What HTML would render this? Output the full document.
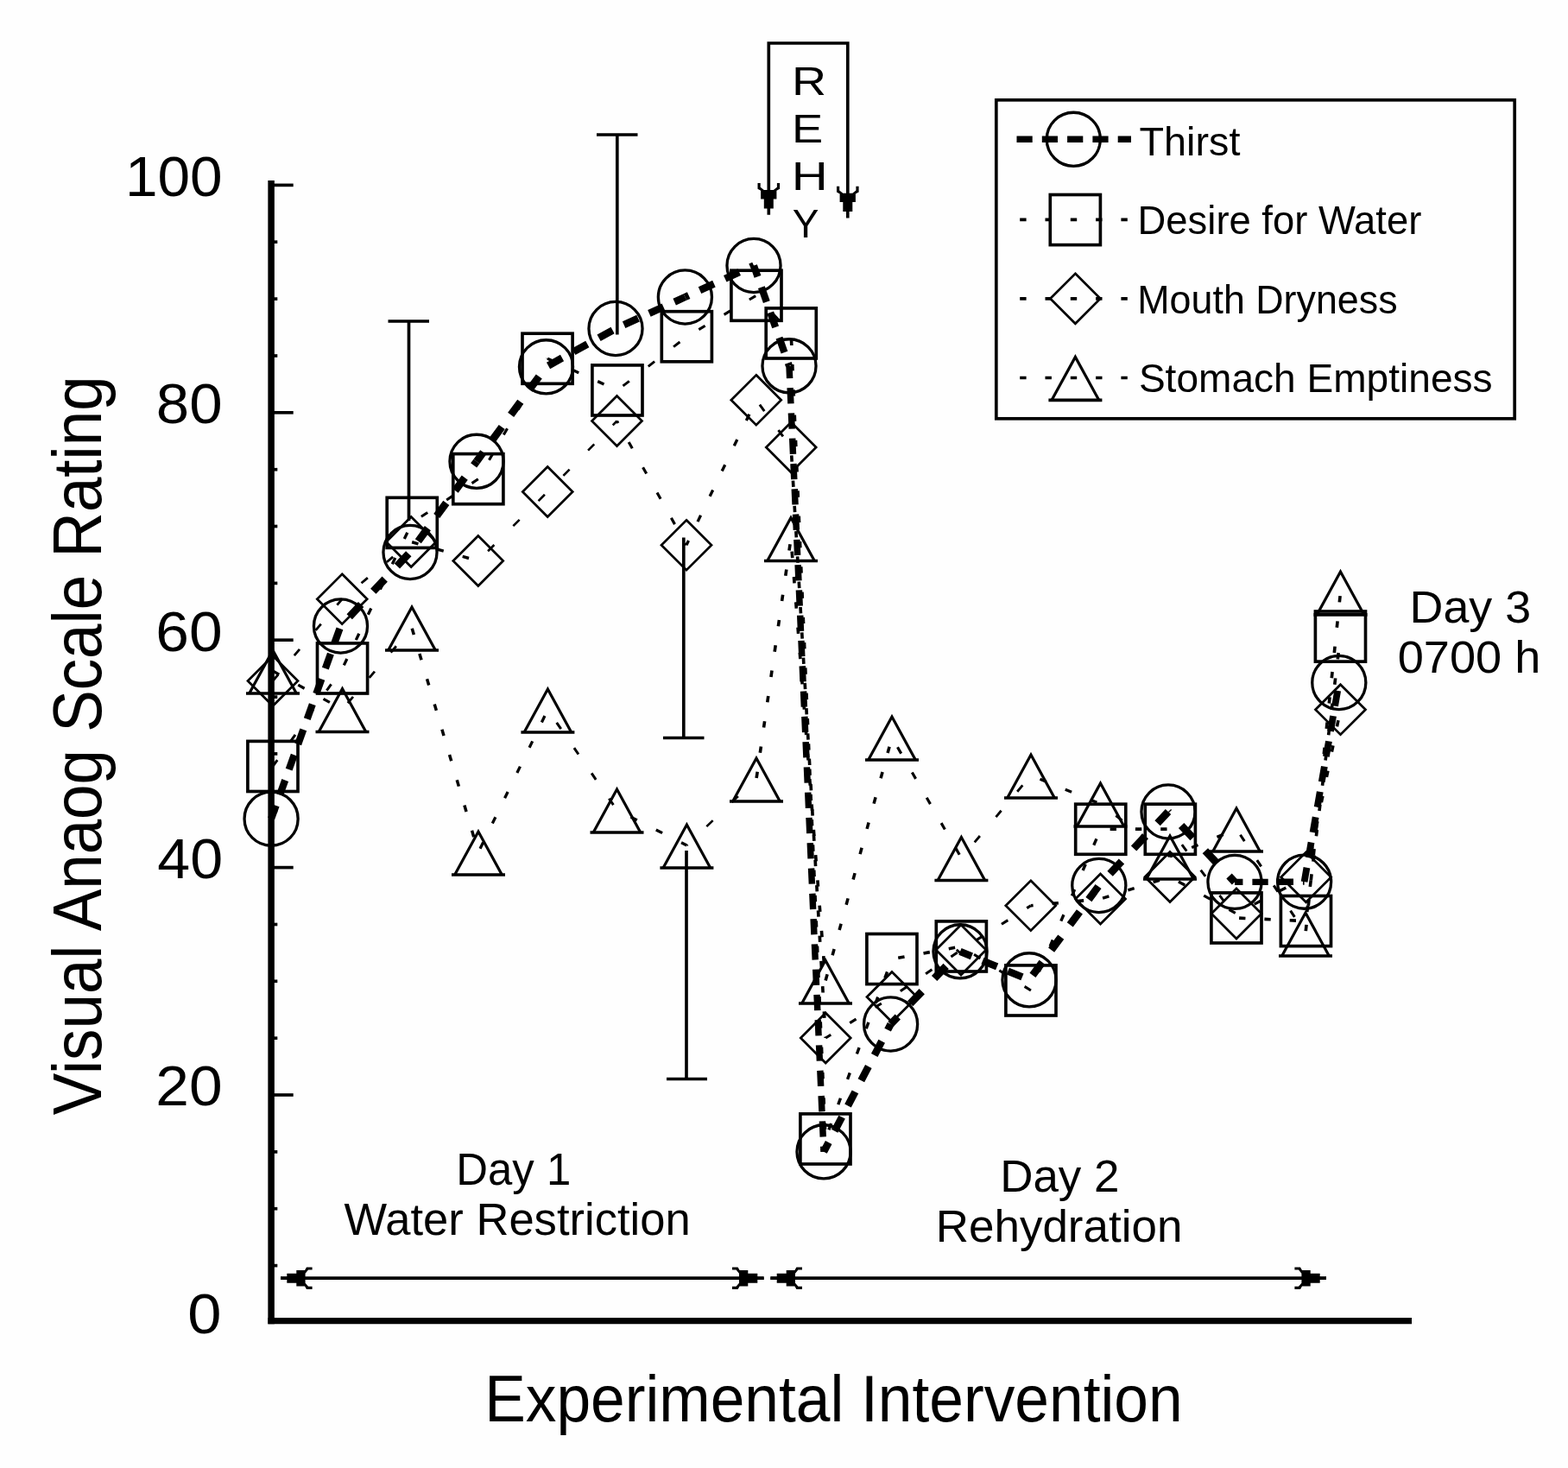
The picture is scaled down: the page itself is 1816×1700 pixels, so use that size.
<!DOCTYPE html>
<html lang="en"><head><meta charset="utf-8"><title>Visual Analog Scale Rating</title>
<style>html,body{margin:0;padding:0;background:#fff}body{width:1816px;height:1700px;overflow:hidden}svg{display:block}text{font-family:"Liberation Sans",Arial,sans-serif;fill:#000}</style></head><body>
<svg width="1816" height="1700" viewBox="0 0 1816 1700">
<rect width="1816" height="1700" fill="#fefefe"/>
<g stroke="#000" fill="none" stroke-width="3.66">
<path stroke-width="7.5" d="M314.1 209V1533.3"/>
<path stroke-width="7.2" d="M310.4 1529.7H1635"/>
<path d="M316 1465.6H321.3"/>
<path d="M316 1399.7H321.3"/>
<path d="M316 1333.9H321.3"/>
<path d="M316 1268.0H339.7"/>
<path d="M316 1202.2H321.3"/>
<path d="M316 1136.3H321.3"/>
<path d="M316 1070.5H321.3"/>
<path d="M316 1004.6H339.7"/>
<path d="M316 938.8H321.3"/>
<path d="M316 872.9H321.3"/>
<path d="M316 807.1H321.3"/>
<path d="M316 741.2H339.7"/>
<path d="M316 675.4H321.3"/>
<path d="M316 609.5H321.3"/>
<path d="M316 543.7H321.3"/>
<path d="M316 477.8H339.7"/>
<path d="M316 412.0H321.3"/>
<path d="M316 346.1H321.3"/>
<path d="M316 280.2H321.3"/>
<path d="M316 214.4H339.7"/>
</g>
<text x="217.2" y="1543.8" font-size="65.5" textLength="39.2" lengthAdjust="spacingAndGlyphs">0</text>
<text x="180.3" y="1280.4" font-size="65.5" textLength="77.3" lengthAdjust="spacingAndGlyphs">20</text>
<text x="182.3" y="1017.0" font-size="65.5" textLength="75.8" lengthAdjust="spacingAndGlyphs">40</text>
<text x="180.3" y="753.6" font-size="65.5" textLength="77.3" lengthAdjust="spacingAndGlyphs">60</text>
<text x="180.8" y="490.2" font-size="65.5" textLength="76.8" lengthAdjust="spacingAndGlyphs">80</text>
<text x="144.9" y="226.8" font-size="65.5" textLength="112.7" lengthAdjust="spacingAndGlyphs">100</text>
<text transform="translate(117.3 1291.0) rotate(-90)" x="-0.3" y="0" font-size="79" textLength="855.9" lengthAdjust="spacingAndGlyphs">Visual Anaog Scale Rating</text>
<text x="561.2" y="1646.2" font-size="76" textLength="808.4" lengthAdjust="spacingAndGlyphs">Experimental Intervention</text>
<g stroke="#000" fill="none" stroke-width="3.66">
<line x1="316.0" y1="887.5" x2="396.6" y2="774.0" stroke-width="2.98" stroke-dasharray="8.98 26.93" stroke-dashoffset="0.00"/>
<line x1="396.6" y1="774.0" x2="477.2" y2="605.4" stroke-width="3.30" stroke-dasharray="8.11 24.34" stroke-dashoffset="28.44"/>
<line x1="477.2" y1="605.4" x2="553.9" y2="554.7" stroke-width="3.05" stroke-dasharray="8.78 26.33" stroke-dashoffset="22.28"/>
<line x1="553.9" y1="554.7" x2="634.1" y2="415.2" stroke-width="3.17" stroke-dasharray="8.44 25.33" stroke-dashoffset="8.52"/>
<line x1="634.1" y1="415.2" x2="715.0" y2="452.0" stroke-width="3.33" stroke-dasharray="8.04 24.12" stroke-dashoffset="0.48"/>
<line x1="715.0" y1="452.0" x2="795.4" y2="389.8" stroke-width="2.89" stroke-dasharray="9.26 27.77" stroke-dashoffset="28.81"/>
<line x1="795.4" y1="389.8" x2="876.0" y2="342.2" stroke-width="3.15" stroke-dasharray="8.50 25.49" stroke-dashoffset="17.81"/>
<line x1="876.0" y1="342.2" x2="916.2" y2="386.0" stroke-width="2.69" stroke-dasharray="9.95 29.84" stroke-dashoffset="11.01"/>
<line x1="916.2" y1="386.0" x2="956.0" y2="1319.0" stroke-width="3.66" stroke-dasharray="7.33 21.98" stroke-dashoffset="22.59"/>
<line x1="956.0" y1="1319.0" x2="1033.0" y2="1110.6" stroke-width="3.43" stroke-dasharray="7.80 23.41" stroke-dashoffset="19.84"/>
<line x1="1033.0" y1="1110.6" x2="1113.4" y2="1096.0" stroke-width="3.60" stroke-dasharray="7.44 22.32" stroke-dashoffset="22.41"/>
<line x1="1113.4" y1="1096.0" x2="1194.0" y2="1147.0" stroke-width="3.09" stroke-dasharray="8.66 25.99" stroke-dashoffset="17.29"/>
<line x1="1194.0" y1="1147.0" x2="1274.8" y2="960.2" stroke-width="3.36" stroke-dasharray="7.97 23.92" stroke-dashoffset="8.03"/>
<line x1="1274.8" y1="960.2" x2="1355.4" y2="960.2" stroke-width="3.66" stroke-dasharray="7.32 21.96" stroke-dashoffset="18.44"/>
<line x1="1355.4" y1="960.2" x2="1432.0" y2="1063.0" stroke-width="2.93" stroke-dasharray="9.13 27.39" stroke-dashoffset="14.03"/>
<line x1="1432.0" y1="1063.0" x2="1512.5" y2="1066.6" stroke-width="3.66" stroke-dasharray="7.33 21.98" stroke-dashoffset="26.19"/>
<line x1="1512.5" y1="1066.6" x2="1552.5" y2="737.1" stroke-width="3.63" stroke-dasharray="7.37 22.12" stroke-dashoffset="18.96"/>
<line x1="316.0" y1="788.5" x2="396.2" y2="693.8" stroke-width="2.79" stroke-dasharray="9.59 28.78" stroke-dashoffset="0.00"/>
<line x1="396.2" y1="693.8" x2="476.2" y2="627.5" stroke-width="2.82" stroke-dasharray="9.50 28.51" stroke-dashoffset="8.97"/>
<line x1="476.2" y1="627.5" x2="553.8" y2="649.5" stroke-width="3.52" stroke-dasharray="7.61 22.83" stroke-dashoffset="29.47"/>
<line x1="553.8" y1="649.5" x2="634.2" y2="569.5" stroke-width="2.60" stroke-dasharray="10.32 30.96" stroke-dashoffset="25.39"/>
<line x1="634.2" y1="569.5" x2="714.5" y2="487.5" stroke-width="2.62" stroke-dasharray="10.24 30.73" stroke-dashoffset="14.93"/>
<line x1="714.5" y1="487.5" x2="795.0" y2="631.2" stroke-width="3.19" stroke-dasharray="8.39 25.17" stroke-dashoffset="5.54"/>
<line x1="795.0" y1="631.2" x2="875.8" y2="463.2" stroke-width="3.30" stroke-dasharray="8.12 24.37" stroke-dashoffset="2.42"/>
<line x1="875.8" y1="463.2" x2="916.2" y2="518.0" stroke-width="2.94" stroke-dasharray="9.11 27.32" stroke-dashoffset="29.58"/>
<line x1="916.2" y1="518.0" x2="956.2" y2="1202.0" stroke-width="3.65" stroke-dasharray="7.33 22.00" stroke-dashoffset="20.00"/>
<line x1="956.2" y1="1202.0" x2="1033.0" y2="1154.5" stroke-width="3.11" stroke-dasharray="8.61 25.83" stroke-dashoffset="1.47"/>
<line x1="1033.0" y1="1154.5" x2="1113.0" y2="1100.0" stroke-width="3.02" stroke-dasharray="8.86 26.57" stroke-dashoffset="23.52"/>
<line x1="1113.0" y1="1100.0" x2="1193.8" y2="1048.8" stroke-width="3.09" stroke-dasharray="8.67 26.01" stroke-dashoffset="13.74"/>
<line x1="1193.8" y1="1048.8" x2="1274.5" y2="1041.0" stroke-width="3.64" stroke-dasharray="7.35 22.06" stroke-dashoffset="4.53"/>
<line x1="1274.5" y1="1041.0" x2="1355.0" y2="1015.5" stroke-width="3.49" stroke-dasharray="7.68 23.04" stroke-dashoffset="28.01"/>
<line x1="1355.0" y1="1015.5" x2="1432.0" y2="1058.0" stroke-width="3.20" stroke-dasharray="8.36 25.08" stroke-dashoffset="22.11"/>
<line x1="1432.0" y1="1058.0" x2="1512.6" y2="1015.8" stroke-width="3.24" stroke-dasharray="8.26 24.79" stroke-dashoffset="9.62"/>
<line x1="1512.6" y1="1015.8" x2="1552.5" y2="821.7" stroke-width="3.59" stroke-dasharray="7.47 22.42" stroke-dashoffset="1.31"/>
<line x1="316.0" y1="777.0" x2="396.5" y2="821.5" stroke-width="3.20" stroke-dasharray="8.36 25.09" stroke-dashoffset="0.00"/>
<line x1="396.5" y1="821.5" x2="477.0" y2="727.0" stroke-width="2.79" stroke-dasharray="9.62 28.85" stroke-dashoffset="28.82"/>
<line x1="477.0" y1="727.0" x2="554.0" y2="987.0" stroke-width="3.51" stroke-dasharray="7.63 22.90" stroke-dashoffset="29.83"/>
<line x1="554.0" y1="987.0" x2="634.4" y2="822.0" stroke-width="3.29" stroke-dasharray="8.14 24.43" stroke-dashoffset="27.90"/>
<line x1="634.4" y1="822.0" x2="714.5" y2="938.0" stroke-width="3.01" stroke-dasharray="8.90 26.69" stroke-dashoffset="17.50"/>
<line x1="714.5" y1="938.0" x2="795.4" y2="979.0" stroke-width="3.26" stroke-dasharray="8.21 24.62" stroke-dashoffset="14.89"/>
<line x1="795.4" y1="979.0" x2="876.0" y2="902.0" stroke-width="2.65" stroke-dasharray="10.12 30.37" stroke-dashoffset="8.77"/>
<line x1="876.0" y1="902.0" x2="916.0" y2="623.5" stroke-width="3.62" stroke-dasharray="7.40 22.19" stroke-dashoffset="28.67"/>
<line x1="916.0" y1="623.5" x2="956.0" y2="1136.0" stroke-width="3.65" stroke-dasharray="7.34 22.03" stroke-dashoffset="14.12"/>
<line x1="956.0" y1="1136.0" x2="1033.0" y2="854.0" stroke-width="3.53" stroke-dasharray="7.59 22.76" stroke-dashoffset="29.88"/>
<line x1="1033.0" y1="854.0" x2="1113.4" y2="993.5" stroke-width="3.17" stroke-dasharray="8.45 25.35" stroke-dashoffset="20.80"/>
<line x1="1113.4" y1="993.5" x2="1194.0" y2="898.0" stroke-width="2.80" stroke-dasharray="9.58 28.74" stroke-dashoffset="14.55"/>
<line x1="1194.0" y1="898.0" x2="1274.5" y2="931.0" stroke-width="3.39" stroke-dasharray="7.91 23.73" stroke-dashoffset="20.30"/>
<line x1="1274.5" y1="931.0" x2="1355.0" y2="992.0" stroke-width="2.92" stroke-dasharray="9.18 27.55" stroke-dashoffset="14.35"/>
<line x1="1355.0" y1="992.0" x2="1432.0" y2="960.0" stroke-width="3.38" stroke-dasharray="7.93 23.78" stroke-dashoffset="4.44"/>
<line x1="1432.0" y1="960.0" x2="1512.0" y2="1081.0" stroke-width="3.05" stroke-dasharray="8.78 26.33" stroke-dashoffset="27.02"/>
<line x1="1512.0" y1="1081.0" x2="1552.5" y2="685.9" stroke-width="3.64" stroke-dasharray="7.36 22.08" stroke-dashoffset="26.56"/>
<line x1="314.1" y1="948.2" x2="394.5" y2="725.0" stroke-width="8.25" stroke-dasharray="17.98 13.14" stroke-dashoffset="1.60"/>
<line x1="394.5" y1="725.0" x2="475.0" y2="639.5" stroke-width="8.78" stroke-dasharray="19.56 20.65" stroke-dashoffset="25.29"/>
<line x1="475.0" y1="639.5" x2="552.0" y2="534.3" stroke-width="8.72" stroke-dasharray="18.74 17.54" stroke-dashoffset="20.46"/>
<line x1="552.0" y1="534.3" x2="632.5" y2="424.8" stroke-width="8.72" stroke-dasharray="18.75 17.58" stroke-dashoffset="5.69"/>
<line x1="632.5" y1="424.8" x2="713.0" y2="380.5" stroke-width="8.56" stroke-dasharray="18.24 15.17" stroke-dashoffset="30.50"/>
<line x1="713.0" y1="380.5" x2="793.4" y2="344.0" stroke-width="8.42" stroke-dasharray="18.07 14.08" stroke-dashoffset="21.56"/>
<line x1="793.4" y1="344.0" x2="873.0" y2="307.5" stroke-width="8.43" stroke-dasharray="18.08 14.13" stroke-dashoffset="13.40"/>
<line x1="873.0" y1="307.5" x2="914.0" y2="423.8" stroke-width="8.24" stroke-dasharray="17.98 13.07" stroke-dashoffset="4.45"/>
<line x1="914.0" y1="423.8" x2="954.0" y2="1333.8" stroke-width="7.45" stroke-dasharray="18.22 11.09" stroke-dashoffset="3.96"/>
<line x1="954.0" y1="1333.8" x2="1031.6" y2="1186.0" stroke-width="8.53" stroke-dasharray="18.19 14.88" stroke-dashoffset="5.90"/>
<line x1="1031.6" y1="1186.0" x2="1112.0" y2="1101.8" stroke-width="8.78" stroke-dasharray="19.62 20.85" stroke-dashoffset="7.76"/>
<line x1="1112.0" y1="1101.8" x2="1192.0" y2="1134.8" stroke-width="8.35" stroke-dasharray="18.02 13.65" stroke-dashoffset="3.53"/>
<line x1="1192.0" y1="1134.8" x2="1272.8" y2="1025.5" stroke-width="8.72" stroke-dasharray="18.77 17.64" stroke-dashoffset="29.74"/>
<line x1="1272.8" y1="1025.5" x2="1353.0" y2="940.0" stroke-width="8.78" stroke-dasharray="19.55 20.61" stroke-dashoffset="21.43"/>
<line x1="1353.0" y1="940.0" x2="1430.0" y2="1021.4" stroke-width="8.78" stroke-dasharray="19.58 20.72" stroke-dashoffset="18.27"/>
<line x1="1430.0" y1="1021.4" x2="1510.6" y2="1021.2" stroke-width="7.33" stroke-dasharray="18.30 10.98" stroke-dashoffset="8.87"/>
<line x1="1510.6" y1="1021.2" x2="1550.8" y2="790.5" stroke-width="7.82" stroke-dasharray="18.04 11.68" stroke-dashoffset="1.38"/>
<circle cx="314.1" cy="948.2" r="31.05" stroke-width="3.3"/>
<circle cx="394.5" cy="725.0" r="31.05" stroke-width="3.3"/>
<circle cx="475.0" cy="639.5" r="31.05" stroke-width="3.3"/>
<circle cx="552.0" cy="534.3" r="31.05" stroke-width="3.3"/>
<circle cx="632.5" cy="424.8" r="31.05" stroke-width="3.3"/>
<circle cx="713.0" cy="380.5" r="31.05" stroke-width="3.3"/>
<circle cx="793.4" cy="344.0" r="31.05" stroke-width="3.3"/>
<circle cx="873.0" cy="307.5" r="31.05" stroke-width="3.3"/>
<circle cx="914.0" cy="423.8" r="31.05" stroke-width="3.3"/>
<circle cx="954.0" cy="1333.8" r="31.05" stroke-width="3.3"/>
<circle cx="1031.6" cy="1186.0" r="31.05" stroke-width="3.3"/>
<circle cx="1112.0" cy="1101.8" r="31.05" stroke-width="3.3"/>
<circle cx="1192.0" cy="1134.8" r="31.05" stroke-width="3.3"/>
<circle cx="1272.8" cy="1025.5" r="31.05" stroke-width="3.3"/>
<circle cx="1353.0" cy="940.0" r="31.05" stroke-width="3.3"/>
<circle cx="1430.0" cy="1021.4" r="31.05" stroke-width="3.3"/>
<circle cx="1510.6" cy="1021.2" r="31.05" stroke-width="3.3"/>
<circle cx="1550.8" cy="790.5" r="31.05" stroke-width="3.3"/>
<rect x="286.9" y="858.4" width="58.1" height="58.1"/>
<rect x="367.5" y="744.9" width="58.1" height="58.1"/>
<rect x="448.2" y="576.3" width="58.1" height="58.1"/>
<rect x="524.8" y="525.6" width="58.1" height="58.1"/>
<rect x="605.0" y="386.2" width="58.1" height="58.1"/>
<rect x="685.9" y="422.9" width="58.1" height="58.1"/>
<rect x="766.3" y="360.7" width="58.1" height="58.1"/>
<rect x="846.9" y="313.2" width="58.1" height="58.1"/>
<rect x="887.2" y="356.9" width="58.1" height="58.1"/>
<rect x="926.9" y="1289.9" width="58.1" height="58.1"/>
<rect x="1003.9" y="1081.5" width="58.1" height="58.1"/>
<rect x="1084.3" y="1066.9" width="58.1" height="58.1"/>
<rect x="1164.9" y="1117.9" width="58.1" height="58.1"/>
<rect x="1245.7" y="931.2" width="58.1" height="58.1"/>
<rect x="1326.3" y="931.2" width="58.1" height="58.1"/>
<rect x="1402.9" y="1033.9" width="58.1" height="58.1"/>
<rect x="1483.4" y="1037.5" width="58.1" height="58.1"/>
<rect x="1523.4" y="708.0" width="58.1" height="58.1"/>
<path stroke-width="2.7" d="M316.0 759.5L345.0 788.5L316.0 817.5L287.0 788.5Z"/>
<path stroke-width="2.7" d="M396.2 664.8L425.2 693.8L396.2 722.7L367.3 693.8Z"/>
<path stroke-width="2.7" d="M476.2 598.5L505.2 627.5L476.2 656.5L447.3 627.5Z"/>
<path stroke-width="2.7" d="M553.8 620.5L582.7 649.5L553.8 678.5L524.8 649.5Z"/>
<path stroke-width="2.7" d="M634.2 540.5L663.2 569.5L634.2 598.5L605.3 569.5Z"/>
<path stroke-width="2.7" d="M714.5 458.5L743.5 487.5L714.5 516.5L685.5 487.5Z"/>
<path stroke-width="2.7" d="M795.0 602.3L824.0 631.2L795.0 660.2L766.0 631.2Z"/>
<path stroke-width="2.7" d="M875.8 434.3L904.7 463.2L875.8 492.2L846.8 463.2Z"/>
<path stroke-width="2.7" d="M916.2 489.0L945.2 518.0L916.2 547.0L887.3 518.0Z"/>
<path stroke-width="2.7" d="M956.2 1173.0L985.2 1202.0L956.2 1231.0L927.3 1202.0Z"/>
<path stroke-width="2.7" d="M1033.0 1125.5L1062.0 1154.5L1033.0 1183.5L1004.0 1154.5Z"/>
<path stroke-width="2.7" d="M1113.0 1071.0L1142.0 1100.0L1113.0 1129.0L1084.0 1100.0Z"/>
<path stroke-width="2.7" d="M1193.8 1019.8L1222.7 1048.8L1193.8 1077.7L1164.8 1048.8Z"/>
<path stroke-width="2.7" d="M1274.5 1012.0L1303.5 1041.0L1274.5 1070.0L1245.5 1041.0Z"/>
<path stroke-width="2.7" d="M1355.0 986.5L1384.0 1015.5L1355.0 1044.5L1326.0 1015.5Z"/>
<path stroke-width="2.7" d="M1432.0 1029.0L1461.0 1058.0L1432.0 1087.0L1403.0 1058.0Z"/>
<path stroke-width="2.7" d="M1512.6 986.8L1541.6 1015.8L1512.6 1044.8L1483.6 1015.8Z"/>
<path stroke-width="2.7" d="M1552.5 792.7L1581.5 821.7L1552.5 850.7L1523.5 821.7Z"/>
<path d="M285.0 803.0H347.0"/><path stroke-width="3.2" d="M288.7 803.0L316.0 753.1L343.3 803.0"/>
<path d="M365.5 847.5H427.5"/><path stroke-width="3.2" d="M369.2 847.5L396.5 797.6L423.8 847.5"/>
<path d="M446.0 753.0H508.0"/><path stroke-width="3.2" d="M449.7 753.0L477.0 703.1L504.3 753.0"/>
<path d="M523.0 1013.0H585.0"/><path stroke-width="3.2" d="M526.7 1013.0L554.0 963.1L581.3 1013.0"/>
<path d="M603.4 848.0H665.4"/><path stroke-width="3.2" d="M607.1 848.0L634.4 798.1L661.7 848.0"/>
<path d="M683.5 964.0H745.5"/><path stroke-width="3.2" d="M687.2 964.0L714.5 914.1L741.8 964.0"/>
<path d="M764.4 1005.0H826.4"/><path stroke-width="3.2" d="M768.1 1005.0L795.4 955.1L822.7 1005.0"/>
<path d="M845.0 928.0H907.0"/><path stroke-width="3.2" d="M848.7 928.0L876.0 878.1L903.3 928.0"/>
<path d="M885.0 649.5H947.0"/><path stroke-width="3.2" d="M888.7 649.5L916.0 599.6L943.3 649.5"/>
<path d="M925.0 1162.0H987.0"/><path stroke-width="3.2" d="M928.7 1162.0L956.0 1112.1L983.3 1162.0"/>
<path d="M1002.0 880.0H1064.0"/><path stroke-width="3.2" d="M1005.7 880.0L1033.0 830.1L1060.3 880.0"/>
<path d="M1082.4 1019.5H1144.4"/><path stroke-width="3.2" d="M1086.1 1019.5L1113.4 969.6L1140.7 1019.5"/>
<path d="M1163.0 924.0H1225.0"/><path stroke-width="3.2" d="M1166.7 924.0L1194.0 874.1L1221.3 924.0"/>
<path d="M1243.5 957.0H1305.5"/><path stroke-width="3.2" d="M1247.2 957.0L1274.5 907.1L1301.8 957.0"/>
<path d="M1324.0 1018.0H1386.0"/><path stroke-width="3.2" d="M1327.7 1018.0L1355.0 968.1L1382.3 1018.0"/>
<path d="M1401.0 986.0H1463.0"/><path stroke-width="3.2" d="M1404.7 986.0L1432.0 936.1L1459.3 986.0"/>
<path d="M1481.0 1107.0H1543.0"/><path stroke-width="3.2" d="M1484.7 1107.0L1512.0 1057.1L1539.3 1107.0"/>
<path d="M1521.5 711.9H1583.5"/><path stroke-width="3.2" d="M1525.2 711.9L1552.5 662.0L1579.8 711.9"/>
<path d="M473.5 603V372M449.5 372H497"/>
<path d="M714.8 387.5V156M691 156H738.5"/>
<path d="M791.8 622.5V854.5M768 854.5H815.5"/>
<path d="M795 985V1249.5M772 1249.5H819"/>
<path d="M890.3 240V50H981.8V244"/>
<path d="M325 1480.2H884.6M892.4 1480.2H1536"/>
</g>
<path fill="#000" stroke="none" d="M888.5 248.7L888.5 241.4L884.8 241.4L884.8 230.4L881.1 230.4L881.1 220.7L877.5 218.7L877.5 212.1L880.7 212.1L880.7 216.7L884.8 220.1L888.5 220.1L892.1 220.1L895.8 220.1L899.9 216.7L899.9 212.1L903.1 212.1L903.1 218.7L899.4 220.7L899.4 230.4L895.8 230.4L895.8 241.4L892.1 241.4L892.1 248.7Z"/>
<path fill="#000" stroke="none" d="M980.0 252.4L980.0 245.1L976.3 245.1L976.3 234.1L972.6 234.1L972.6 224.4L969.0 222.4L969.0 215.8L972.2 215.8L972.2 220.4L976.3 223.8L980.0 223.8L983.6 223.8L987.3 223.8L991.4 220.4L991.4 215.8L994.6 215.8L994.6 222.4L990.9 224.4L990.9 234.1L987.3 234.1L987.3 245.1L983.6 245.1L983.6 252.4Z"/>
<path fill="#000" stroke="none" d="M325.0 1478.4L332.3 1478.4L332.3 1474.7L343.3 1474.7L343.3 1471.0L353.0 1471.0L355.0 1467.4L361.6 1467.4L361.6 1470.6L357.0 1470.6L353.6 1474.7L353.6 1478.4L353.6 1482.0L353.6 1485.7L357.0 1489.8L361.6 1489.8L361.6 1493.0L355.0 1493.0L353.0 1489.4L343.3 1489.4L343.3 1485.7L332.3 1485.7L332.3 1482.0L325.0 1482.0Z"/>
<path fill="#000" stroke="none" d="M884.6 1482.0L877.3 1482.0L877.3 1485.7L866.3 1485.7L866.3 1489.4L856.6 1489.4L854.6 1493.0L848.0 1493.0L848.0 1489.8L852.6 1489.8L856.0 1485.7L856.0 1482.0L856.0 1478.4L856.0 1474.7L852.6 1470.6L848.0 1470.6L848.0 1467.4L854.6 1467.4L856.6 1471.0L866.3 1471.0L866.3 1474.7L877.3 1474.7L877.3 1478.4L884.6 1478.4Z"/>
<path fill="#000" stroke="none" d="M892.4 1478.4L899.7 1478.4L899.7 1474.7L910.7 1474.7L910.7 1471.0L920.4 1471.0L922.4 1467.4L929.0 1467.4L929.0 1470.6L924.4 1470.6L921.0 1474.7L921.0 1478.4L921.0 1482.0L921.0 1485.7L924.4 1489.8L929.0 1489.8L929.0 1493.0L922.4 1493.0L920.4 1489.4L910.7 1489.4L910.7 1485.7L899.7 1485.7L899.7 1482.0L892.4 1482.0Z"/>
<path fill="#000" stroke="none" d="M1536.0 1482.0L1528.7 1482.0L1528.7 1485.7L1517.7 1485.7L1517.7 1489.4L1508.0 1489.4L1506.0 1493.0L1499.4 1493.0L1499.4 1489.8L1504.0 1489.8L1507.4 1485.7L1507.4 1482.0L1507.4 1478.4L1507.4 1474.7L1504.0 1470.6L1499.4 1470.6L1499.4 1467.4L1506.0 1467.4L1508.0 1471.0L1517.7 1471.0L1517.7 1474.7L1528.7 1474.7L1528.7 1478.4L1536.0 1478.4Z"/>
<text x="916.9" y="110.0" font-size="46" textLength="40.1" lengthAdjust="spacingAndGlyphs">R</text>
<text x="917.0" y="165.0" font-size="46" textLength="36.2" lengthAdjust="spacingAndGlyphs">E</text>
<text x="916.7" y="220.0" font-size="46" textLength="42.0" lengthAdjust="spacingAndGlyphs">H</text>
<text x="917.8" y="274.5" font-size="46" textLength="30.7" lengthAdjust="spacingAndGlyphs">Y</text>
<text x="528.3" y="1372.0" font-size="51" textLength="132.9" lengthAdjust="spacingAndGlyphs">Day 1</text>
<text x="398.6" y="1430.3" font-size="51" textLength="401.1" lengthAdjust="spacingAndGlyphs">Water Restriction</text>
<text x="1158.2" y="1379.5" font-size="51" textLength="138.3" lengthAdjust="spacingAndGlyphs">Day 2</text>
<text x="1083.7" y="1438.0" font-size="51" textLength="285.7" lengthAdjust="spacingAndGlyphs">Rehydration</text>
<text x="1632.6" y="720.5" font-size="51" textLength="140.5" lengthAdjust="spacingAndGlyphs">Day 3</text>
<text x="1618.7" y="778.8" font-size="51" textLength="165.6" lengthAdjust="spacingAndGlyphs">0700 h</text>
<g stroke="#000" fill="none" stroke-width="3.66">
<rect x="1153.8" y="115.8" width="600.4" height="369" fill="#fefefe" stroke-width="3.7"/>
<path stroke-width="7.4" stroke-dasharray="18.2 11.1" d="M1177.5 161.3H1310"/>
<path stroke-dasharray="7.4 21.9" d="M1181.2 254.4H1310"/>
<path stroke-dasharray="7.4 21.9" d="M1181.2 345.8H1310"/>
<path stroke-dasharray="7.4 21.9" d="M1181.2 437.5H1310"/>
<circle cx="1243.3" cy="161.3" r="31.05" stroke-width="3.3"/>
<rect x="1216.3" y="225.5" width="58.1" height="58.1"/>
<path stroke-width="2.7" d="M1245.4 316.8L1274.4 345.8L1245.4 374.8L1216.4 345.8Z"/>
<path d="M1214.4 463.3H1276.4"/><path stroke-width="3.2" d="M1218.1 463.3L1245.4 413.4L1272.7 463.3"/>
</g>
<text x="1319.5" y="179.5" font-size="46.3" textLength="116.9" lengthAdjust="spacingAndGlyphs">Thirst</text>
<text x="1317.6" y="270.5" font-size="46.3" textLength="328.7" lengthAdjust="spacingAndGlyphs">Desire for Water</text>
<text x="1317.3" y="362.5" font-size="46.3" textLength="301.3" lengthAdjust="spacingAndGlyphs">Mouth Dryness</text>
<text x="1318.9" y="453.8" font-size="46.3" textLength="409.7" lengthAdjust="spacingAndGlyphs">Stomach Emptiness</text>
</svg></body></html>
